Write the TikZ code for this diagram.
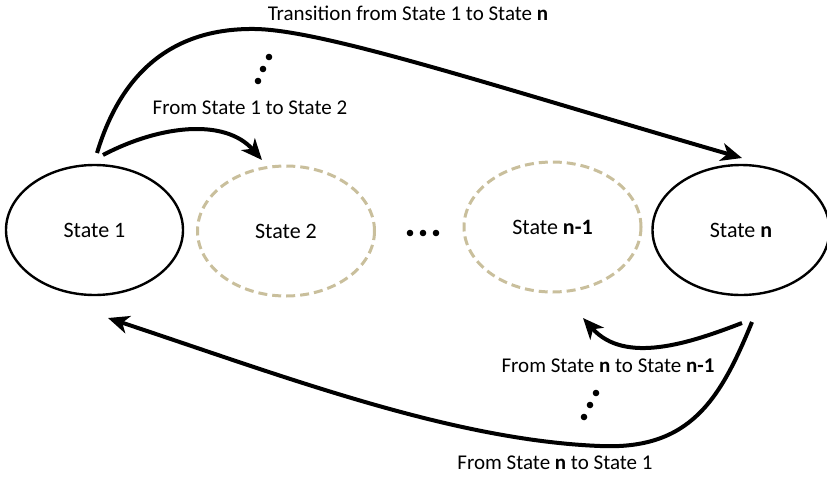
\documentclass[tikz,border=0pt]{standalone}
\usepackage{fontspec}
\setmainfont{Carlito}
\usepackage{tikz}
\usetikzlibrary{shapes.geometric}
\usetikzlibrary{arrows.meta}
\definecolor{khaki}{RGB}{201,191,156}
\tikzstyle{state}=[draw, ellipse, line width=2.4pt, minimum width=177pt, minimum height=130pt, inner sep=0pt, font=\fontsize{22}{26}\selectfont]
\tikzstyle{hstate}=[state, draw=khaki, line width=3pt, dash pattern=on 9pt off 5pt]
\tikzstyle{trans}=[line width=4pt, -{Stealth[length=21pt,width=18pt,inset=6pt]}]
\tikzstyle{tlabel}=[inner sep=0pt, font=\fontsize{21}{25}\selectfont]

\begin{document}
\begin{tikzpicture}[x=1pt, y=-1pt]
        \useasboundingbox (0,0) rectangle (827,477);
        \node[state] (S1) at (94.5, 230) {State 1};
        \node[hstate] (S2) at (286, 231) {State 2};
        \node[hstate] (Sm) at (552.5, 227) {State \textbf{n-1}};
        \node[state] (Sn) at (741, 230) {State \textbf{n}};
        % free ends of the transitions
        \coordinate (a1) at (97, 153);
        \coordinate (a2) at (103, 155);
        \coordinate (b1) at (742, 158);
        \coordinate (b2) at (262, 160);
        \coordinate (c1) at (742, 323);
        \coordinate (c2) at (583, 318);
        \coordinate (d1) at (752, 322);
        \coordinate (d2) at (108, 318);
        \draw[trans] (a1) .. controls (125, 60) and (185, 28) .. (255, 29) .. controls (325, 30) and (500, 88) .. (b1);
        \draw[trans] (a2) .. controls (160, 125) and (225, 118) .. (b2);
        \draw[trans] (c1) .. controls (690, 343) and (625, 365) .. (c2);
        \draw[trans] (d1) .. controls (720, 400) and (690, 450) .. (600, 446) .. controls (450, 440) and (280, 375) .. (d2);
        \node[tlabel] (L1n) at (408, 13) {Transition from State 1 to State \textbf{n}};
        \node[tlabel] (L12) at (250, 108) {From State 1 to State 2};
        \node[tlabel] (Lnm) at (608, 366) {From State \textbf{n} to State \textbf{n-1}};
        \node[tlabel] (Ln1) at (555, 463) {From State \textbf{n} to State 1};
        % dots
        \foreach \x/\y in {269/57, 263/69, 258/81, 596/393, 590/405, 584/417, 410/233, 423/233, 436/233}
            \fill (\x, \y) circle (3.3);
    \end{tikzpicture}
\end{document}
